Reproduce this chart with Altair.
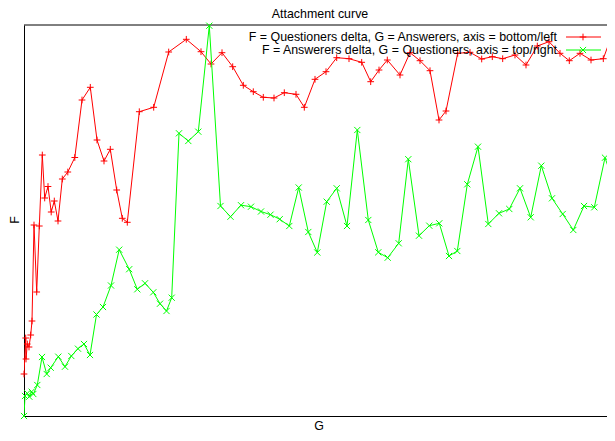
import altair as alt
import pandas as pd

# Red series: F = Questioners delta, G = Answerers
red_g = [0, 1.7, 2, 3.3, 5, 6.7, 8, 10, 12.7, 15.3, 18.3, 20.7, 24, 27.2, 30.3, 34, 38.3, 43.8,
         50.8, 58, 66.3, 73, 80, 86.3, 92.7, 98.3, 103.3, 115.3, 129.7, 144.7, 162.3, 177, 187,
         198, 208.7, 219.3, 229.3, 239.3, 250, 260.3, 272, 280.3, 291, 302, 312.7, 325, 337.7,
         346.7, 355, 363.3, 376, 386, 396, 406, 415, 422, 433.7, 446, 457.7, 468.3, 478.7, 491,
         502, 513.3, 525, 536, 545.3, 556, 567, 579.3, 593]
red_f = [42, 78, 57, 72, 69, 81, 95, 191, 124, 190, 261, 218, 229.5, 204, 215, 195, 237, 244,
         258.5, 316, 328.7, 276, 255, 266.7, 226, 197.7, 193.7, 304.3, 308.7, 364, 376.7, 364.3,
         352, 363.3, 349.3, 330.7, 324.3, 318.7, 318, 323.3, 321.7, 308.7, 336.7, 344.3, 358.3,
         357.3, 353.7, 334.3, 346, 356, 341, 363.3, 355.3, 345.3, 296, 305, 362.7, 363.7, 357,
         359.3, 357.3, 361, 351, 370, 374.3, 362.7, 355.3, 362.7, 356, 357.3, 395]

# Green series: F = Answerers delta, G = Questioners
green_g = [0, 1, 3.3, 5.3, 7.7, 9.3, 13.3, 18, 22.7, 26.7, 34.3, 41, 47.3, 54, 60, 66, 72.5, 79,
           87, 95.2, 105.2, 113.3, 121, 129.3, 136, 142.5, 147.7, 155, 164.3, 174.3, 185.3, 196.5,
           206.5, 217, 227, 237, 246.5, 255.7, 265.3, 274.7, 284.3, 293.3, 302.7, 312.7, 323,
           333.3, 344.3, 354.3, 363.7, 374.7, 384.3, 395, 405.3, 415.3, 425, 433.3, 443.3, 454,
           464.3, 475, 485.3, 496, 506.7, 517.3, 528, 538.7, 549.3, 560, 570.3, 581, 591]
green_f = [0, 20, 22.7, 19.3, 24.3, 22, 31, 59, 42, 48.3, 59.3, 49.3, 60, 67.3, 72, 61, 101.5,
           109, 130.5, 166.3, 146.8, 126.7, 132.7, 123.7, 112.3, 105, 118.3, 282.7, 275, 284.3,
           390.3, 210, 199.3, 210.8, 209.3, 204.5, 201.3, 196.8, 190, 228.5, 184, 163.5, 214.3,
           227.7, 190, 286, 196, 163.7, 158.3, 172.7, 256.8, 180.3, 190.3, 192.7, 160, 165,
           231.7, 269.3, 192, 202.7, 207, 227.7, 198.7, 250.3, 217.7, 202, 186, 210, 208.7,
           258.3, 229.3]

title_text = "Attachment curve"
x_label = "G"
y_label = "F"
legend_labels = ["F = Questioners delta, G = Answerers, axis = bottom/left",
                 "F = Answerers delta, G = Questioners, axis = top/right"]
series_colors = ["#ff0000", "#00ff00"]

W, H = 583, 391
FONT = "Liberation Sans"
FS = 12.4
PLUS = "M-1,0L1,0M0,-1L0,1"
CROSS = "M-1,-1L1,1M-1,1L1,-1"

red_df = pd.DataFrame({"g": red_g, "f": red_f, "idx": range(len(red_g))})
green_df = pd.DataFrame({"g": green_g, "f": green_f, "idx": range(len(green_g))})

xs = alt.Scale(domain=[0, W], nice=False, zero=False)
ys = alt.Scale(domain=[0, H], nice=False, zero=False)
xa = alt.Axis(title=None, labels=False, ticks=False, grid=False, domain=True,
              domainColor="black", domainWidth=1)
ya = alt.Axis(title=None, labels=False, ticks=False, grid=False, domain=True,
              domainColor="black", domainWidth=1)


def series(df, color, shape, size):
    enc = dict(x=alt.X("g:Q", scale=xs, axis=xa), y=alt.Y("f:Q", scale=ys, axis=ya))
    line = alt.Chart(df).mark_line(color=color, strokeWidth=1, clip=True).encode(
        order=alt.Order("idx:Q"), **enc)
    pts = alt.Chart(df).mark_point(shape=shape, size=size, filled=False, color=color,
                                   strokeWidth=1, opacity=1).encode(**enc).transform_filter(
        alt.datum.g <= W)
    return line + pts


red_layer = series(red_df, series_colors[0], PLUS, 45)
green_layer = series(green_df, series_colors[1], CROSS, 38)

one = pd.DataFrame({"k": [0]})
top_border = alt.Chart(one).mark_rule(color="black", strokeWidth=1).encode(
    x=alt.value(0), x2=alt.value(W), y=alt.value(0))


def label(text, x, y, angle=0, align="center", baseline="middle"):
    return alt.Chart(pd.DataFrame({"t": [text]})).mark_text(
        font=FONT, fontSize=FS, color="black", align=align, baseline=baseline, angle=angle
    ).encode(text="t:N", x=alt.value(x), y=alt.value(y))


title = label(title_text, 296, -7.5, baseline="alphabetic")
xl = label(x_label, 295, 400.5)
yl = label(y_label, -9.5, 195, angle=270)

leg = []
for i, (lab, col, shp, sz) in enumerate(zip(legend_labels, series_colors, [PLUS, CROSS], [45, 38])):
    yy = 12 + i * 13
    leg.append(label(lab, 533, yy, align="right"))
    leg.append(alt.Chart(one).mark_rule(color=col, strokeWidth=1).encode(
        x=alt.value(542), x2=alt.value(577), y=alt.value(yy)))
    leg.append(alt.Chart(one).mark_point(shape=shp, size=sz, filled=False, color=col,
                                         strokeWidth=1, opacity=1).encode(
        x=alt.value(559), y=alt.value(yy)))

chart = alt.layer(top_border, red_layer, green_layer, title, xl, yl, *leg).properties(
    width=W, height=H,
    autosize=alt.AutoSizeParams(type="none"),
    padding={"left": 16, "top": 17, "right": 0, "bottom": 17},
    background="white",
).configure_view(stroke=None)

chart.save("out.html", embed_options={"renderer": "svg", "actions": False})
